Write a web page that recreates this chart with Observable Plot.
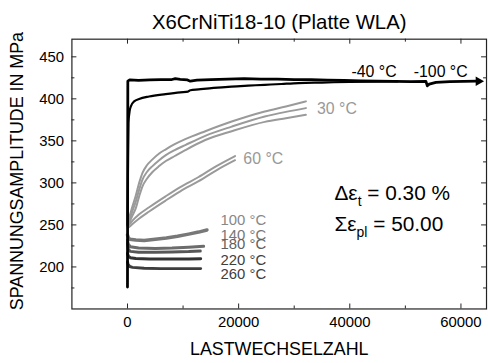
<!DOCTYPE html>
<html>
<head>
<meta charset="utf-8">
<script src="https://cdn.jsdelivr.net/npm/d3@7"></script>
<script src="https://cdn.jsdelivr.net/npm/@observablehq/plot@0.6"></script>
<style>
  html, body { margin: 0; padding: 0; background: #fff; overflow: hidden; }
</style>
</head>
<body>
<div id="chart"></div>
<script>
// ---- tick values ----
const xMajor = [0, 20000, 40000, 60000];
const xMinor = [10000, 30000, 50000];
const yMajor = [200, 250, 300, 350, 400, 450];
const yMinor = [175, 225, 275, 325, 375, 425];

// ---- texts ----
const titleText = "X6CrNiTi18-10 (Platte WLA)";
const xLabel = "LASTWECHSELZAHL";
const yLabel = "SPANNUNGSAMPLITUDE IN MPa";

// ---- series (cycles N, stress amplitude in MPa) ----
const N_m100 = [0, 60, 400, 2000, 4000, 6000, 8000, 8600, 9500, 10800, 11300, 12500, 15000, 18000, 21000, 24000, 27000, 30000, 33000, 36000, 39000, 42000, 45000, 48000, 51000, 53700, 53950, 54300, 55500, 58000, 60500, 62800];
const S_m100 = [176, 421, 422.5, 422, 422.5, 422.8, 423, 424, 423.2, 422.5, 421, 422.2, 423, 423.5, 424, 423.6, 423.4, 423, 422.8, 422.3, 422, 421.5, 421.2, 420.8, 420.6, 420.8, 415.5, 417.5, 419.5, 420.5, 420.8, 421];

const N_m40 = [0, 100, 179, 400, 607, 1200, 2090, 3880, 6860, 9500, 10900, 11300, 12800, 15500, 18700, 21700, 24700, 27700, 30800, 35000, 40000, 44500, 48600];
const S_m40 = [250, 330, 372, 386, 391, 397, 399.8, 402.8, 405.7, 407.8, 408.6, 410.2, 411.2, 413, 414.6, 415.7, 416.7, 417.7, 418.7, 419.4, 420.2, 420.5, 420.8];

const N_30 = [0, 300, 800, 1500, 2100, 2700, 3500, 4500, 5700, 6900, 8500, 10400, 14000, 18750, 24700, 28500, 32100];
const S_30a = [248, 258, 270, 285, 300, 312, 321, 328, 335, 340, 346, 352, 361.5, 373, 385, 391, 397];
const S_30b = [248, 255, 265, 278, 292, 304, 313, 320, 327, 333, 339, 345, 356, 367, 379, 384.5, 389];
const S_30c = [248, 252, 260, 270, 284, 296, 305, 313, 320, 326, 332, 339, 351, 361.5, 372.6, 377, 381];

const N_60 = [0, 400, 900, 2000, 3900, 6860, 9500, 12800, 16000, 19360];
const S_60a = [248, 251, 255, 262, 271, 284, 295, 307, 320, 332];
const S_60b = [246, 248, 251, 257, 266, 279, 290, 302, 315, 327];

const N_100 = [0, 150, 400, 1500, 3000, 5000, 7000, 9000, 11000, 12800, 14300];
const S_100 = [238, 235, 233, 232, 231.5, 233, 234.5, 236.5, 239, 241.5, 244];

const N_140 = [0, 150, 500, 2000, 5000, 8000, 11000, 13700];
const S_140 = [232, 227, 224, 222.5, 222, 222.5, 223.5, 224.5];

const N_180 = [0, 150, 500, 2000, 5000, 8000, 11000, 13100];
const S_180 = [228, 221, 218.5, 217.5, 217.5, 217.8, 218.3, 219];

const N_220 = [0, 150, 500, 1500, 4000, 8000, 11000, 13170];
const S_220 = [216, 213, 211, 210, 209.5, 209.5, 209.5, 209.8];

const N_260 = [0, 100, 400, 900, 3000, 6000, 10000, 13170];
const S_260 = [206, 203, 200.5, 199.5, 198.5, 198, 198, 198];

// ---- label positions (data coords) ----
const labelsTop = [
  {text: "-40 °C",  x: 40300, y: 432,   color: "#000"},
  {text: "-100 °C", x: 51500, y: 432,   color: "#000"},
  {text: "30 °C",   x: 34100, y: 387.6, color: "#999"},
  {text: "60 °C",   x: 20850, y: 328.5, color: "#999"}
];
const labelsLow = [
  {text: "100 °C",  x: 16740, y: 255,   color: "#888"},
  {text: "140 °C",  x: 16740, y: 237.3, color: "#777"},
  {text: "180 °C",  x: 16740, y: 227.5, color: "#5f5f5f"},
  {text: "220 °C",  x: 16740, y: 207.4, color: "#404040"},
  {text: "260 °C",  x: 16740, y: 190.9, color: "#404040"}
];
const annot = [
  {text: "Δεt = 0.30 %",   x: 37240, y: 287.2},
  {text: "Σεpl = 50.00", x: 37240, y: 250.3}
];

// ---- build series table ----
function series(N, S, key) { return N.map((n, i) => ({n, s: S[i], key})); }
const styles = [
  {key: "30a", N: N_30, S: S_30a, stroke: "#9a9a9a", w: 2, curve: "monotone-x"},
  {key: "30b", N: N_30, S: S_30b, stroke: "#9a9a9a", w: 2, curve: "monotone-x"},
  {key: "30c", N: N_30, S: S_30c, stroke: "#9a9a9a", w: 2, curve: "monotone-x"},
  {key: "60a", N: N_60, S: S_60a, stroke: "#9a9a9a", w: 2, curve: "monotone-x"},
  {key: "60b", N: N_60, S: S_60b, stroke: "#9a9a9a", w: 2, curve: "monotone-x"},
  {key: "100", N: N_100, S: S_100, stroke: "#787878", w: 3.5, curve: "linear"},
  {key: "140", N: N_140, S: S_140, stroke: "#6c6c6c", w: 3, curve: "linear"},
  {key: "180", N: N_180, S: S_180, stroke: "#575757", w: 3, curve: "linear"},
  {key: "220", N: N_220, S: S_220, stroke: "#333333", w: 3, curve: "linear"},
  {key: "260", N: N_260, S: S_260, stroke: "#3e3e3e", w: 3, curve: "linear"},
  {key: "-40", N: N_m40, S: S_m40, stroke: "#000", w: 2.2, curve: "monotone-x"},
  {key: "-100", N: N_m100, S: S_m100, stroke: "#000", w: 2.8, curve: "linear"}
];

const W = 492, H = 363;
const mL = 72, mR = 2, mT = 39, mB = 52;
const fw = W - mL - mR, fh = H - mT - mB;
const font = "'Liberation Sans', Arial, Helvetica, sans-serif";

const lineMarks = styles.map(st =>
  Plot.line(series(st.N, st.S, st.key), {x: "n", y: "s", stroke: st.stroke, strokeWidth: st.w, strokeLinejoin: "round", curve: st.curve})
);
const lastM100 = [{n: N_m100[N_m100.length - 1], s: S_m100[S_m100.length - 1]}];

const chart = Plot.plot({
  width: W, height: H,
  marginLeft: mL, marginRight: mR, marginTop: mT, marginBottom: mB,
  style: {fontFamily: font, fontSize: "15px", color: "#000", background: "#fff"},
  x: {domain: [-10000, 64600], ticks: xMajor, tickSize: 0, tickPadding: 8, tickFormat: d => String(d), label: null},
  y: {domain: [150, 471], ticks: yMajor, tickSize: 0, tickPadding: 8, tickFormat: d => String(d), label: null},
  marks: [
    ...lineMarks,
    Plot.dot(lastM100, {x: "n", y: "s", symbol: "triangle", rotate: 90, r: 3.6, fill: "#000", stroke: "none", dx: 2}),
    // inward ticks
    Plot.tickX(xMajor, {x: d => d, insetTop: fh - 5, stroke: "#222"}),
    Plot.tickX(xMinor, {x: d => d, insetTop: fh - 3, stroke: "#222"}),
    Plot.tickX(xMajor, {x: d => d, insetBottom: fh - 5, stroke: "#222"}),
    Plot.tickX(xMinor, {x: d => d, insetBottom: fh - 3, stroke: "#222"}),
    Plot.tickY(yMajor, {y: d => d, insetRight: fw - 5, stroke: "#222"}),
    Plot.tickY(yMinor, {y: d => d, insetRight: fw - 3, stroke: "#222"}),
    Plot.tickY(yMajor, {y: d => d, insetLeft: fw - 5, stroke: "#222"}),
    Plot.tickY(yMinor, {y: d => d, insetLeft: fw - 3, stroke: "#222"}),
    Plot.frame({stroke: "#222", strokeWidth: 1.2}),
    // curve labels
    Plot.text(labelsTop, {x: "x", y: "y", text: "text", fill: "color", textAnchor: "start", lineAnchor: "middle", fontSize: 16}),
    Plot.text(labelsLow, {x: "x", y: "y", text: "text", fill: "color", textAnchor: "start", lineAnchor: "middle", fontSize: 15}),
    Plot.text(annot, {x: "x", y: "y", text: "text", fill: "#000", textAnchor: "start", lineAnchor: "middle", fontSize: 21}),
    // title and axis labels
    Plot.text([titleText], {frameAnchor: "top", dy: -17, textAnchor: "middle", lineAnchor: "middle", fontSize: 20.5, fill: "#000"}),
    Plot.text([xLabel], {frameAnchor: "bottom", dy: 41, textAnchor: "middle", lineAnchor: "middle", fontSize: 18, fill: "#000"}),
    Plot.text([yLabel], {frameAnchor: "left", dx: -55, dy: -3, rotate: -90, textAnchor: "middle", lineAnchor: "middle", fontSize: 18, fill: "#000"})
  ]
});

// subscripts
chart.querySelectorAll("text").forEach(t => {
  if (t.textContent === "Δεt = 0.30 %") {
    t.innerHTML = 'Δε<tspan dy="6" font-size="14">t</tspan><tspan dy="-6"> = 0.30 %</tspan>';
  } else if (t.textContent === "Σεpl = 50.00") {
    t.innerHTML = 'Σε<tspan dy="6" font-size="14">pl</tspan><tspan dy="-6"> = 50.00</tspan>';
  }
});

document.getElementById("chart").appendChild(chart);
</script>
</body>
</html>
